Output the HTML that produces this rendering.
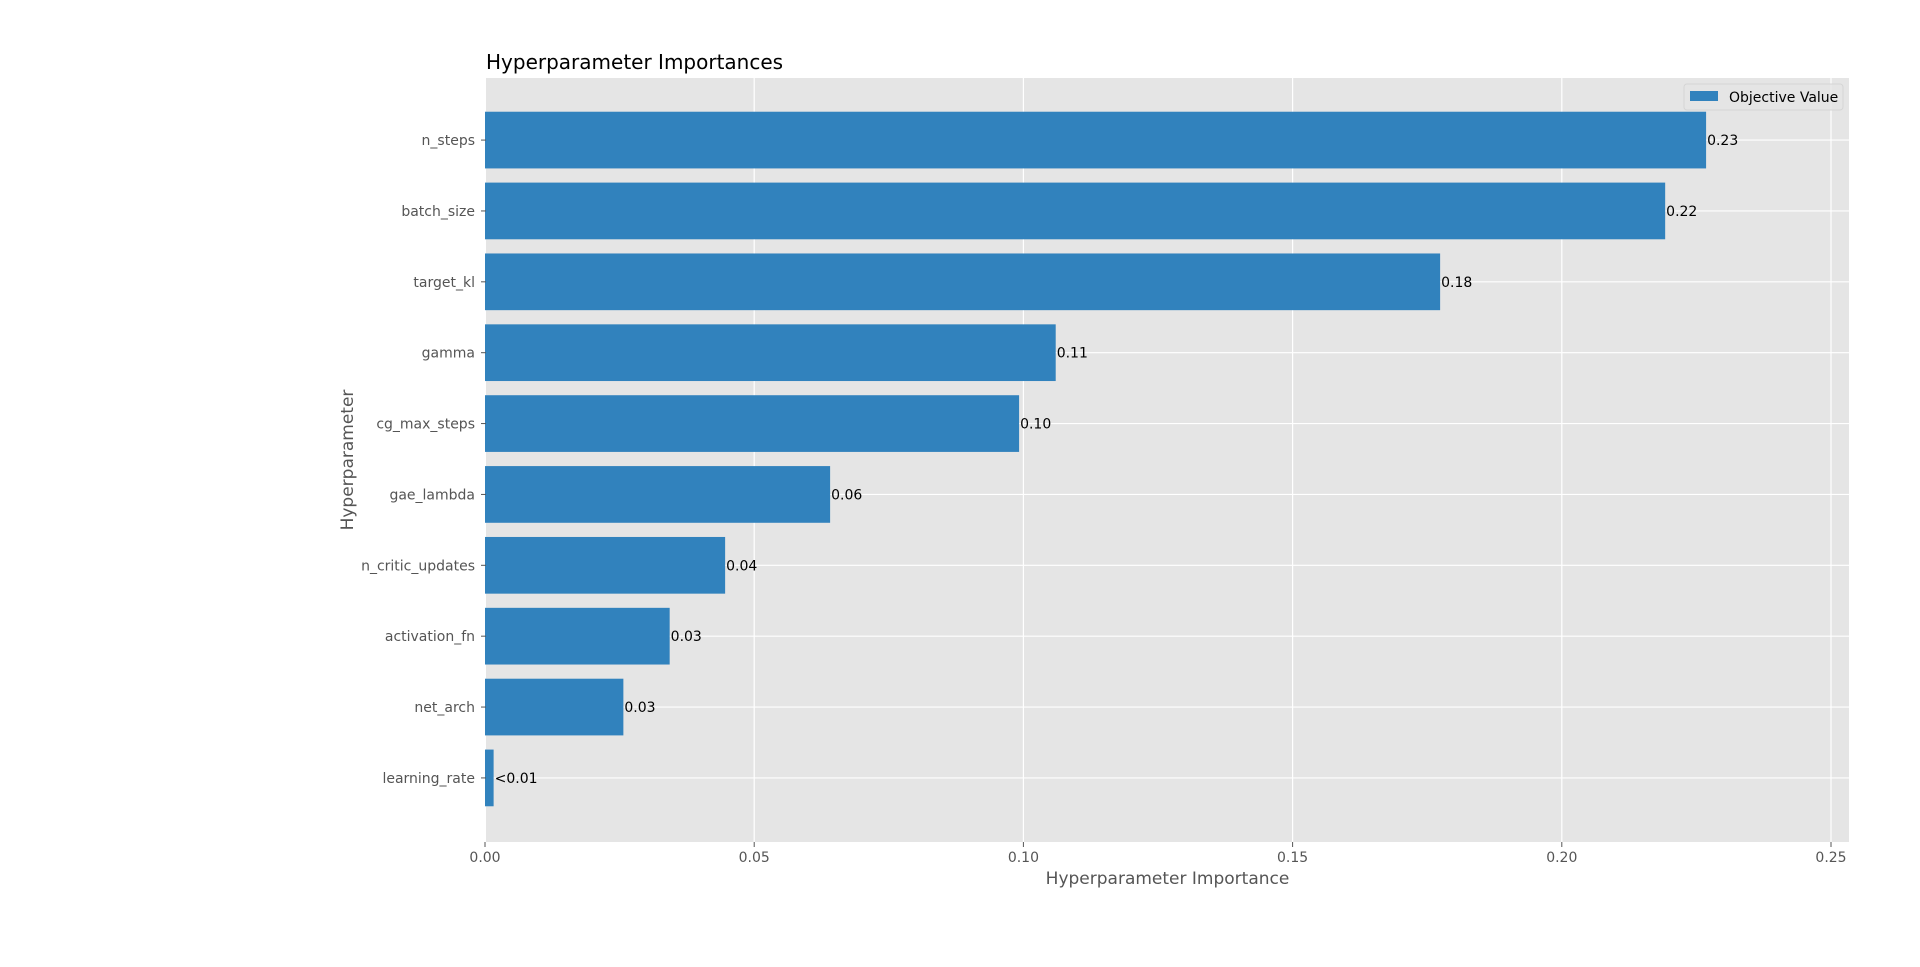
<!DOCTYPE html>
<html><head><meta charset="utf-8">
<style>
html,body{margin:0;padding:0;background:#fff;}
svg{display:block;font-family:"DejaVu Sans","Liberation Sans",sans-serif;}
</style></head>
<body>
<svg id="chart" width="1920" height="967" viewBox="0 0 1920 967"></svg>
<script>
const categories = ["n_steps","batch_size","target_kl","gamma","cg_max_steps","gae_lambda","n_critic_updates","activation_fn","net_arch","learning_rate"];
const values = [0.2268,0.2192,0.1774,0.1060,0.0992,0.0641,0.0446,0.0343,0.0257,0.0016];
const valueLabels = ["0.23","0.22","0.18","0.11","0.10","0.06","0.04","0.03","0.03","<0.01"];
const xTicks = [0,0.05,0.10,0.15,0.20,0.25];
const xTickLabels = ["0.00","0.05","0.10","0.15","0.20","0.25"];

const NS="http://www.w3.org/2000/svg";
const svg=document.getElementById('chart');
const L=486,R=1849,T=78,B=842;
const x0px=485,x25px=1831;
function xs(v){return x0px+(v/0.25)*(x25px-x0px);}
const n=categories.length;
const yMin=-0.89,yMax=(n-1)+0.89;
function ys(i){
  const idx=(n-1)-i;
  return B-(idx-yMin)/(yMax-yMin)*(B-T)-1;
}
const unit=(B-T)/(yMax-yMin);
function mk(tag,attrs,parent){const e=document.createElementNS(NS,tag);for(const k in attrs)e.setAttribute(k,attrs[k]);(parent||svg).appendChild(e);return e;}

const bg=mk('rect',{x:L,y:T,width:R-L,height:B-T,fill:'#e5e5e5'});



xTicks.forEach((t,k)=>{
  const g=mk('line',{x1:xs(t),x2:xs(t),y1:T,y2:B,stroke:'#fff','stroke-width':1.2});
  
  
});
categories.forEach((c,i)=>{
  const g=mk('line',{x1:L,x2:R,y1:ys(i),y2:ys(i),stroke:'#fff','stroke-width':1.2});
  
  
});

categories.forEach((c,i)=>{
  const h=0.8*unit;
  const b=mk('rect',{x:xs(0),y:ys(i)-h/2,width:xs(values[i])-xs(0),height:h,fill:'#3182bd'});
  
  
  const t=mk('text',{x:xs(values[i])+1,y:ys(i)+5,'font-size':14,fill:'#000'});
  t.textContent=valueLabels[i];
  
  
  const tk=mk('line',{x1:L-5,x2:L,y1:ys(i),y2:ys(i),stroke:'#555','stroke-width':1});
  
  
  const yl=mk('text',{x:L-11,y:ys(i)+5,'font-size':14,fill:'#555','text-anchor':'end'});
  yl.textContent=c;
  
  
});

xTicks.forEach((t,k)=>{
  const tk=mk('line',{x1:xs(t),x2:xs(t),y1:B,y2:B+5,stroke:'#555','stroke-width':1});
  
  
  const tl=mk('text',{x:xs(t),y:B+20,'font-size':14,fill:'#555','text-anchor':'middle'});
  tl.textContent=xTickLabels[k];
  
  
});

const xt=mk('text',{x:(L+R)/2,y:884,'font-size':17,fill:'#555','text-anchor':'middle'});
xt.textContent='Hyperparameter Importance';



const yt=mk('text',{x:353,y:(T+B)/2,'font-size':17,fill:'#555','text-anchor':'middle',transform:'rotate(-90 353 '+((T+B)/2)+')'});
yt.textContent='Hyperparameter';



const title=mk('text',{x:L,y:69,'font-size':20,fill:'#000'});
title.textContent='Hyperparameter Importances';



const lg=mk('g',{});


mk('rect',{x:1684,y:84,width:159,height:26,rx:3,fill:'#e5e5e5',stroke:'#d5d5d5','stroke-width':1,'fill-opacity':0.8},lg);
const sw=mk('rect',{x:1690,y:91,width:28,height:10,fill:'#3182bd'},lg);


const lt=mk('text',{x:1729,y:102,'font-size':14,fill:'#000'},lg);
lt.textContent='Objective Value';


</script>
</body></html>
